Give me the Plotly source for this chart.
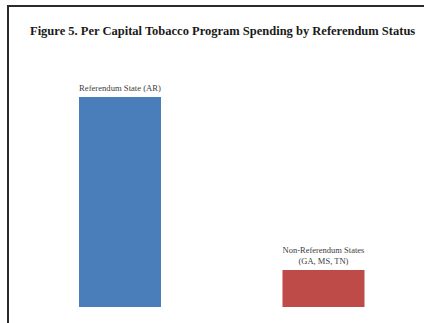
import plotly.graph_objects as go

# Per capita tobacco program spending, referendum vs non-referendum states
groups = ["Referendum State (AR)", "Non-Referendum States<br>(GA, MS, TN)"]
spending = [2.84, 0.50]
bar_colors = ["#4a7ebb", "#be4b48"]

fig = go.Figure(
    go.Bar(
        x=[0, 1],
        y=spending,
        width=0.403,
        marker=dict(color=bar_colors, line=dict(width=0)),
        text=groups,
        textposition="outside",
        cliponaxis=False,
        textfont=dict(family="Liberation Serif", size=10, color="#404040"),
        hoverinfo="skip",
    )
)

fig.update_layout(
    width=424,
    height=323,
    margin=dict(l=0, r=0, t=40, b=16),
    paper_bgcolor="white",
    plot_bgcolor="white",
    showlegend=False,
    xaxis=dict(range=[-0.5897, 1.4939], visible=False),
    yaxis=dict(range=[0, 3.611], visible=False),
    annotations=[
        dict(
            text="<b>Figure 5. Per Capital Tobacco Program Spending by Referendum Status</b>",
            xref="paper", yref="paper",
            x=222 / 424, y=(307 - 31) / 267,
            xanchor="center", yanchor="middle",
            showarrow=False,
            font=dict(family="Liberation Serif", size=12.5, color="#1a1a1a"),
        )
    ],
    shapes=[
        dict(type="line", xref="paper", yref="paper",
             x0=8 / 424, x1=8 / 424, y0=(307 - 6) / 267, y1=(307 - 330) / 267,
             line=dict(color="#2b2b2b", width=2)),
        dict(type="line", xref="paper", yref="paper",
             x0=7 / 424, x1=1.02, y0=(307 - 6) / 267, y1=(307 - 6) / 267,
             line=dict(color="#2b2b2b", width=2)),
    ],
)

fig.write_html("out.html")
